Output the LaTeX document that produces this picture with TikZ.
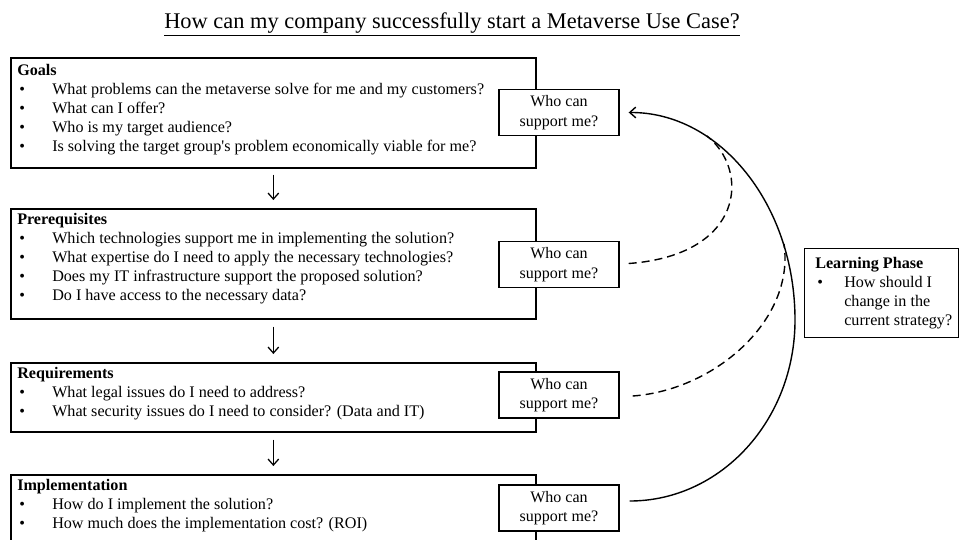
\documentclass[tikz,border=0pt]{standalone}
\usepackage{fontspec}
\setmainfont{Liberation Serif}[Ligatures=TeXOff]
\usetikzlibrary{arrows.meta}
\newcommand\bul[1]{\makebox[#1][l]{\hspace{1.5pt}\textbullet}}
\begin{document}
\begin{tikzpicture}[x=0.75pt,y=-0.75pt,
  stagebox/.style={draw, line width=1.3pt, rectangle, inner sep=0pt, anchor=north west, minimum width=393.75pt},
  whobox/.style={draw, line width=1.05pt, fill=white, rectangle, minimum width=90pt, minimum height=34.5pt, inner sep=0pt, align=center, font=\fontsize{12}{14.5}\selectfont},
  stagetext/.style={anchor=north west, inner sep=0pt, align=left, font=\fontsize{12.1}{14.25}\selectfont},
  flow/.style={-{Straight Barb[length=4.5pt,width=8pt]}, line width=0.95pt},
  loopline/.style={-{Straight Barb[length=4.5pt,width=8pt]}, line width=1.05pt},
  dashline/.style={line width=1.05pt, dash pattern=on 6pt off 3.75pt}
]
\useasboundingbox (0,0) rectangle (959,539);
\clip (0,0) rectangle (959,539);

\node[font=\fontsize{16.8}{19}\selectfont, inner sep=0pt] (title) at (452,24) {\underline{How can my company successfully start a Metaverse Use Case?}};

% stage boxes
\node[stagebox, minimum height=82.5pt] (goals) at (10,57) {};
\node[stagebox, minimum height=82.5pt] (prereq) at (10,208) {};
\node[stagebox, minimum height=51.75pt] (req) at (10,362) {};
\node[stagebox, minimum height=70pt] (impl) at (10,474) {};

\node[stagetext] (goalstext) at ([shift={(7,5)}]goals.north west) {\strut\textbf{Goals}\\
\bul{26.25pt}What problems can the metaverse solve for me and my customers?\\
\bul{26.25pt}What can I offer?\\
\bul{26.25pt}Who is my target audience?\\
\bul{26.25pt}Is solving the target group's problem economically viable for me?};

\node[stagetext] (prereqtext) at ([shift={(7,3)}]prereq.north west) {\strut\textbf{Prerequisites}\\
\bul{26.25pt}Which technologies support me in implementing the solution?\\
\bul{26.25pt}What expertise do I need to apply the necessary technologies?\\
\bul{26.25pt}Does my IT infrastructure support the proposed solution?\\
\bul{26.25pt}Do I have access to the necessary data?};

\node[stagetext] (reqtext) at ([shift={(7,3)}]req.north west) {\strut\textbf{Requirements}\\
\bul{26.25pt}What legal issues do I need to address?\\
\bul{26.25pt}What security issues do I need to consider? (Data and IT)};

\node[stagetext] (impltext) at ([shift={(7,3)}]impl.north west) {\strut\textbf{Implementation}\\
\bul{26.25pt}How do I implement the solution?\\
\bul{26.25pt}How much does the implementation cost? (ROI)};

% who can support me boxes
\node[whobox] (b1) at (559,112.5) {Who can\\support me?};
\node[whobox] (b2) at (559,264.5) {Who can\\support me?};
\node[whobox] (b3) at (559,395) {Who can\\support me?};
\node[whobox] (b4) at (559,508) {Who can\\support me?};

% learning phase
\node[draw, line width=1.1pt, rectangle, anchor=north west, minimum width=115.5pt, minimum height=66.75pt, inner sep=0pt] (learn) at (804,248) {};
\node[stagetext] (learntext) at ([shift={(11,7)}]learn.north west) {\strut\textbf{Learning Phase}\\
\bul{21.75pt}How should I\\
\hspace*{21.75pt}change in the\\
\hspace*{21.75pt}current strategy?};

% flow arrows
\draw[flow] ([shift={(0,6)}]goals.south) -- ([shift={(0,-8)}]prereq.north);
\draw[flow] ([shift={(0,7)}]prereq.south) -- ([shift={(0,-8)}]req.north);
\draw[flow] ([shift={(0,7)}]req.south) -- ([shift={(0,-8)}]impl.north);

% feedback loop
\coordinate (m1) at (707,136);
\coordinate (m2) at (784,244);
\draw[loopline] ([shift={(10,-7)}]b4.east) .. controls (721,501) and (795,420) .. (795,320)
  .. controls (795,205) and (720,112) .. ([shift={(9,0)}]b1.east);
\draw[dashline] ([shift={(9,-1)}]b2.east) .. controls (745,255) and (750,170) .. (m1);
\draw[dashline] ([shift={(13,1)}]b3.east) .. controls (715,390) and (795,320) .. (m2);
\end{tikzpicture}
\end{document}
